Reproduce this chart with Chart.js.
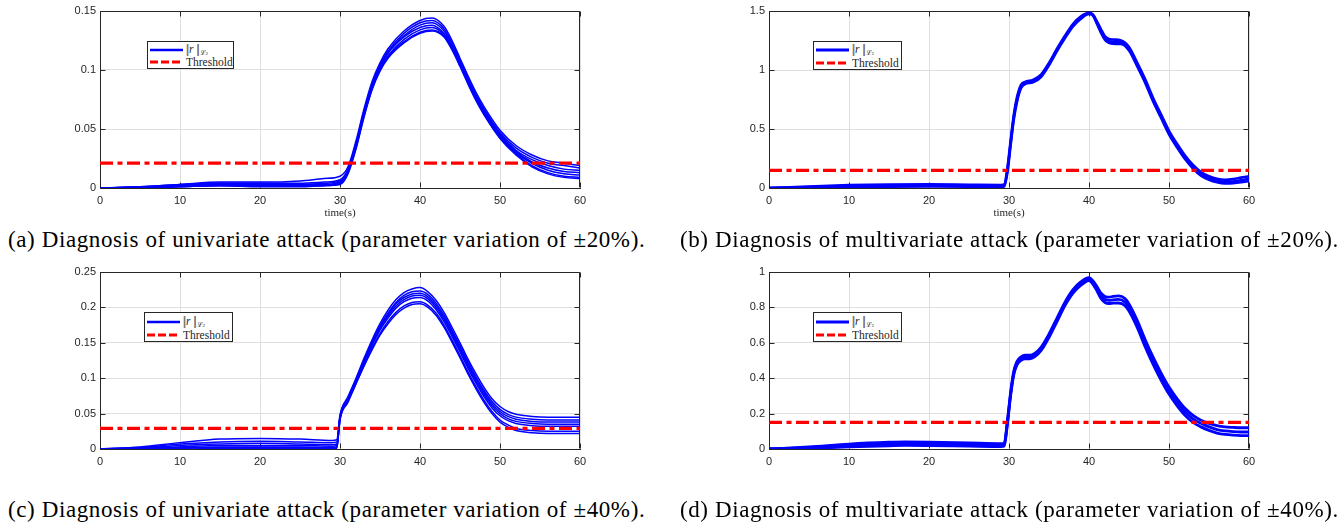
<!DOCTYPE html>
<html><head><meta charset="utf-8">
<script src="https://cdn.jsdelivr.net/npm/chart.js@4.4.1/dist/chart.umd.min.js"></script>
<style>
body{margin:0;background:#fff;width:1340px;height:525px;position:relative;overflow:hidden;}
.panel{position:absolute;width:670px;height:225px;}
.cap{position:absolute;font-family:"Liberation Serif",serif;font-size:23px;letter-spacing:0.6px;line-height:26px;color:#000;white-space:nowrap;}
.leg{position:absolute;border:1px solid #262626;background:#fff;font-family:"Liberation Serif",serif;font-size:11.5px;color:#262626;box-sizing:border-box;}
.row{position:absolute;left:2px;height:12px;display:flex;align-items:center;white-space:nowrap;}
.row svg{margin-right:3px;}
.nrm{letter-spacing:-1.5px;margin-right:1.5px;}
sub{font-size:7px;vertical-align:-2px;}
</style></head>
<body>
<div class="panel" style="left:0;top:0"><canvas id="ca"></canvas></div>
<div class="panel" style="left:669px;top:0"><canvas id="cb"></canvas></div>
<div class="panel" style="left:0;top:261px"><canvas id="cc"></canvas></div>
<div class="panel" style="left:669px;top:261px"><canvas id="cd"></canvas></div>

<div class="cap" style="left:8px;top:227px">(a) Diagnosis of univariate attack (parameter variation of ±20%).</div>
<div class="cap" style="left:680px;top:227px">(b) Diagnosis of multivariate attack (parameter variation of ±20%).</div>
<div class="cap" style="left:8px;top:497px">(c) Diagnosis of univariate attack (parameter variation of ±40%).</div>
<div class="cap" style="left:680px;top:497px">(d) Diagnosis of multivariate attack (parameter variation of ±40%).</div>

<script>
// ---------- DATA ----------
const xTicks = [0, 10, 20, 30, 40, 50, 60];
const legendLabels = ["‖r‖ℒ2", "Threshold"];

// Panel (a)
const timeA = [0,5,10,15,20,25,28,30,31,32,33,34,35,36,38,40,41.5,43,44,45,46,47,48,50,52,54,56,58,60];
const a1 = [0,0.001,0.003,0.005,0.005,0.006,0.008,0.010,0.018,0.040,0.067,0.090,0.106,0.118,0.133,0.142,0.144,0.137,0.125,0.110,0.095,0.081,0.069,0.049,0.036,0.028,0.023,0.021,0.019];
const a2 = [0,0.001,0.003,0.004,0.004,0.004,0.005,0.007,0.016,0.038,0.065,0.088,0.104,0.116,0.131,0.140,0.142,0.135,0.123,0.108,0.093,0.079,0.067,0.047,0.034,0.026,0.021,0.019,0.017];
const a3 = [0,0.001,0.002,0.004,0.004,0.003,0.004,0.006,0.015,0.037,0.064,0.087,0.103,0.115,0.129,0.138,0.140,0.133,0.121,0.107,0.092,0.078,0.066,0.046,0.032,0.024,0.019,0.016,0.015];
const a4 = [0,0.001,0.002,0.003,0.003,0.003,0.003,0.005,0.014,0.036,0.063,0.086,0.102,0.114,0.128,0.136,0.138,0.131,0.120,0.106,0.091,0.077,0.065,0.045,0.031,0.022,0.017,0.014,0.013];
const a5 = [0,0.000,0.002,0.003,0.003,0.002,0.003,0.005,0.014,0.035,0.062,0.085,0.101,0.112,0.126,0.134,0.136,0.130,0.119,0.105,0.090,0.076,0.064,0.044,0.030,0.021,0.015,0.012,0.011];
const a6 = [0,0.000,0.001,0.002,0.002,0.002,0.002,0.004,0.013,0.034,0.061,0.084,0.100,0.111,0.124,0.132,0.134,0.129,0.118,0.104,0.089,0.075,0.063,0.043,0.029,0.019,0.013,0.010,0.009];
const a7 = [0,0.000,0.001,0.002,0.001,0.001,0.002,0.003,0.012,0.033,0.060,0.083,0.099,0.110,0.123,0.131,0.133,0.128,0.117,0.103,0.088,0.074,0.062,0.042,0.028,0.018,0.012,0.009,0.008];
const thresholdA = 0.021;
const yTicksA = [0, 0.05, 0.1, 0.15];

// Panel (b)
const timeB = [0,5,10,15,20,25,29,29.4,29.8,30.2,30.6,31,31.5,32,33,34,35,36,37,38,39,40,40.5,41,41.5,42,42.5,43,44,45,46,47,48,49,50,51,52,53,54,55,56,57,58,59,60];
const bHi  = [0,0.012,0.024,0.03,0.031,0.028,0.026,0.03,0.17,0.4,0.62,0.77,0.875,0.9,0.915,0.96,1.06,1.18,1.29,1.39,1.455,1.485,1.47,1.41,1.345,1.285,1.262,1.258,1.25,1.195,1.065,0.925,0.765,0.625,0.485,0.375,0.275,0.195,0.135,0.1,0.078,0.07,0.075,0.088,0.1];
const bMid = [0,0.008,0.016,0.021,0.022,0.02,0.018,0.02,0.15,0.38,0.6,0.75,0.86,0.89,0.905,0.95,1.05,1.17,1.28,1.38,1.445,1.48,1.465,1.40,1.33,1.27,1.245,1.24,1.235,1.18,1.05,0.91,0.75,0.61,0.47,0.36,0.26,0.18,0.12,0.085,0.062,0.052,0.055,0.065,0.08];
const bLo  = [0,0.004,0.008,0.012,0.013,0.012,0.01,0.012,0.13,0.36,0.58,0.73,0.845,0.88,0.895,0.94,1.04,1.16,1.27,1.37,1.435,1.475,1.46,1.39,1.315,1.255,1.23,1.222,1.22,1.165,1.035,0.895,0.735,0.595,0.455,0.345,0.245,0.165,0.105,0.07,0.048,0.038,0.04,0.048,0.06];
const thresholdB = 0.15;
const yTicksB = [0, 0.5, 1, 1.5];

// Panel (c)
const timeC = [0,5,10,15,20,25,29,29.6,30,31,32,33,34,35,36,37,38,39,40,41,42,43,44,45,46,47,48,49,50,51,52,54,56,58,60];
const c1 = [0,0.003,0.009,0.014,0.015,0.014,0.012,0.013,0.048,0.074,0.1,0.128,0.154,0.177,0.196,0.211,0.221,0.226,0.228,0.222,0.21,0.193,0.172,0.15,0.127,0.106,0.087,0.071,0.06,0.053,0.049,0.046,0.045,0.045,0.045];
const c2 = [0,0.002,0.007,0.01,0.011,0.01,0.009,0.01,0.046,0.072,0.098,0.125,0.151,0.174,0.192,0.207,0.217,0.222,0.223,0.218,0.206,0.189,0.168,0.146,0.123,0.102,0.083,0.067,0.056,0.049,0.045,0.042,0.041,0.041,0.041];
const c3 = [0,0.001,0.005,0.007,0.008,0.007,0.006,0.007,0.045,0.071,0.097,0.124,0.15,0.172,0.19,0.205,0.214,0.219,0.22,0.215,0.203,0.186,0.165,0.143,0.12,0.099,0.08,0.064,0.053,0.046,0.042,0.039,0.038,0.038,0.038];
const c4 = [0,0.001,0.003,0.005,0.005,0.005,0.004,0.005,0.044,0.07,0.096,0.122,0.148,0.17,0.188,0.202,0.211,0.216,0.217,0.212,0.2,0.183,0.162,0.14,0.117,0.096,0.077,0.061,0.05,0.043,0.039,0.036,0.035,0.035,0.035];
const c5 = [0,0,0.002,0.003,0.003,0.003,0.002,0.003,0.043,0.069,0.095,0.121,0.146,0.168,0.185,0.199,0.208,0.213,0.214,0.209,0.197,0.18,0.159,0.137,0.114,0.093,0.074,0.058,0.047,0.04,0.036,0.033,0.032,0.032,0.032];
const c6 = [0,0,0.001,0.002,0.002,0.002,0.001,0.002,0.042,0.067,0.093,0.118,0.142,0.163,0.18,0.193,0.202,0.207,0.208,0.203,0.192,0.175,0.154,0.132,0.109,0.088,0.069,0.053,0.041,0.034,0.029,0.026,0.025,0.025,0.025];
const c7 = [0,0,0,0.001,0.001,0.001,0.001,0.001,0.041,0.066,0.092,0.117,0.14,0.161,0.177,0.19,0.199,0.204,0.205,0.2,0.189,0.172,0.151,0.129,0.106,0.085,0.066,0.05,0.038,0.031,0.026,0.023,0.022,0.022,0.022];
const thresholdC = 0.029;
const yTicksC = [0, 0.05, 0.1, 0.15, 0.2, 0.25];

// Panel (d)
const timeD = [0,5,10,15,17,20,25,29,29.4,29.8,30.2,30.6,31,31.5,32,32.6,33.2,34,35,36,37,38,39,40,40.5,41,41.5,42,42.5,43,43.7,44.5,45,46,47,48,49,50,51,52,53,54,55,56,57,58,59,60];
const dHi  = [0,0.012,0.028,0.038,0.04,0.039,0.034,0.03,0.032,0.16,0.32,0.44,0.495,0.52,0.53,0.53,0.54,0.575,0.65,0.74,0.83,0.9,0.945,0.968,0.95,0.918,0.88,0.862,0.858,0.862,0.865,0.85,0.82,0.73,0.62,0.52,0.43,0.35,0.285,0.23,0.19,0.163,0.145,0.132,0.125,0.122,0.12,0.12];
const dMid = [0,0.008,0.02,0.028,0.03,0.029,0.025,0.022,0.024,0.15,0.31,0.43,0.485,0.51,0.52,0.52,0.53,0.565,0.64,0.73,0.82,0.89,0.935,0.96,0.94,0.905,0.865,0.845,0.84,0.843,0.845,0.83,0.8,0.71,0.6,0.5,0.41,0.33,0.265,0.21,0.17,0.145,0.125,0.11,0.102,0.098,0.096,0.096];
const dLo  = [0,0.004,0.012,0.018,0.02,0.019,0.016,0.014,0.016,0.14,0.3,0.42,0.475,0.5,0.51,0.51,0.52,0.555,0.63,0.72,0.81,0.88,0.925,0.952,0.93,0.893,0.85,0.828,0.822,0.824,0.825,0.81,0.78,0.69,0.58,0.48,0.39,0.31,0.245,0.19,0.15,0.125,0.105,0.09,0.082,0.078,0.076,0.076];
const thresholdD = 0.15;
const yTicksD = [0, 0.2, 0.4, 0.6, 0.8, 1];

// ---------- RENDERING ----------
Chart.defaults.font.family = "'Liberation Sans', Arial, sans-serif";
Chart.defaults.font.size = 11;
Chart.defaults.color = '#262626';

const boxPlugin = {
  id: 'matlabBox',
  beforeDatasetsDraw(chart) {
    const {ctx, chartArea: a, scales: {x, y}} = chart;
    ctx.save();
    ctx.strokeStyle = '#262626';
    ctx.lineWidth = 1;
    ctx.beginPath();
    const L = Math.round(a.left) + 0.5, R = Math.round(a.right) - 0.5;
    const T = Math.round(a.top) + 0.5, B = Math.round(a.bottom) - 0.5;
    ctx.moveTo(L, T); ctx.lineTo(R, T); ctx.lineTo(R, B);
    x.ticks.forEach(t => {
      const px = Math.round(x.getPixelForValue(t.value)) + 0.5;
      ctx.moveTo(px, B); ctx.lineTo(px, B - 5);
      ctx.moveTo(px, T); ctx.lineTo(px, T + 5);
    });
    y.ticks.forEach(t => {
      const py = Math.round(y.getPixelForValue(t.value)) + 0.5;
      ctx.moveTo(L, py); ctx.lineTo(L + 5, py);
      ctx.moveTo(R, py); ctx.lineTo(R - 5, py);
    });
    ctx.stroke();
    ctx.restore();
  }
};

function makeChart(id, times, curves, thr, yTicks, lw, showTitle) {
  const ds = [{
    data: [{x: xTicks[0], y: thr}, {x: xTicks[xTicks.length - 1], y: thr}],
    borderColor: '#ff0000', borderWidth: 3.2, borderDash: [13, 4.5, 5, 4.5],
    pointRadius: 0, order: 0
  }];
  curves.forEach(c => ds.push({
    data: times.map((t, i) => ({x: t, y: c[i]})),
    borderColor: '#0000ff', borderWidth: lw, pointRadius: 0,
    cubicInterpolationMode: 'monotone', order: 1
  }));
  const yMax = yTicks[yTicks.length - 1];
  return new Chart(document.getElementById(id), {
    type: 'line',
    data: {datasets: ds},
    plugins: [boxPlugin],
    options: {
      responsive: true, maintainAspectRatio: false, animation: false,
      layout: {padding: {left: 0, right: 90, top: 11, bottom: 0}},
      plugins: {legend: {display: false}, tooltip: {enabled: false}},
      scales: {
        x: {
          type: 'linear', min: xTicks[0], max: xTicks[xTicks.length - 1],
          afterBuildTicks: s => { s.ticks = xTicks.map(v => ({value: v})); },
          afterFit: s => { s.height = 37; },
          grid: {color: '#dfdfdf', drawTicks: false},
          border: {display: true, color: '#262626', width: 1},
          ticks: {padding: 6, maxRotation: 0, callback: v => String(v), color: '#262626'},
          title: {display: showTitle, text: 'time(s)', color: '#262626',
                  font: {family: "'Liberation Serif', serif", size: 11}, padding: {top: 0, bottom: 5}}
        },
        y: {
          type: 'linear', min: 0, max: yMax,
          afterBuildTicks: s => { s.ticks = yTicks.map(v => ({value: v})); },
          afterFit: s => { s.width = 100; },
          grid: {color: '#dfdfdf', drawTicks: false},
          border: {display: true, color: '#262626', width: 1},
          ticks: {padding: 4, callback: v => String(+v.toFixed(4)), color: '#262626'}
        }
      }
    }
  });
}

makeChart('ca', timeA, [a1, a2, a3, a4, a5, a6, a7], thresholdA, yTicksA, 1.5, true);
makeChart('cb', timeB, [bHi, bMid, bLo], thresholdB, yTicksB, 2.6, true);
makeChart('cc', timeC, [c1, c2, c3, c4, c5, c6, c7], thresholdC, yTicksC, 1.5, false);
makeChart('cd', timeD, [dHi, dMid, dLo], thresholdD, yTicksD, 2.8, false);

// ---------- LEGENDS ----------
function legend(left, top, w, h, lw) {
  const d = document.createElement('div');
  d.className = 'leg';
  Object.assign(d.style, {left: left + 'px', top: top + 'px', width: w + 'px', height: h + 'px'});
  const r1 = h * 0.29, r2 = h * 0.72;
  d.innerHTML =
    `<div class="row" style="top:${r1 - 6}px"><svg width="33" height="6"><line x1="0" y1="3" x2="33" y2="3" stroke="#0000ff" stroke-width="${lw}"/></svg><span><span class="nrm">||</span><i>r</i> <span class="nrm">||</span><sub>ℒ<span style="font-size:5px">2</span></sub></span></div>` +
    `<div class="row" style="top:${r2 - 6}px"><svg width="33" height="6"><line x1="0" y1="3" x2="33" y2="3" stroke="#ff0000" stroke-width="3" stroke-dasharray="8 3"/></svg><span>${legendLabels[1]}</span></div>`;
  document.body.appendChild(d);
}
legend(147, 41, 87, 28, 2.5);
legend(813, 41, 89, 29, 3);
legend(144, 312, 89, 30, 2.5);
legend(813, 312, 89, 30, 3);
</script>
</body></html>
